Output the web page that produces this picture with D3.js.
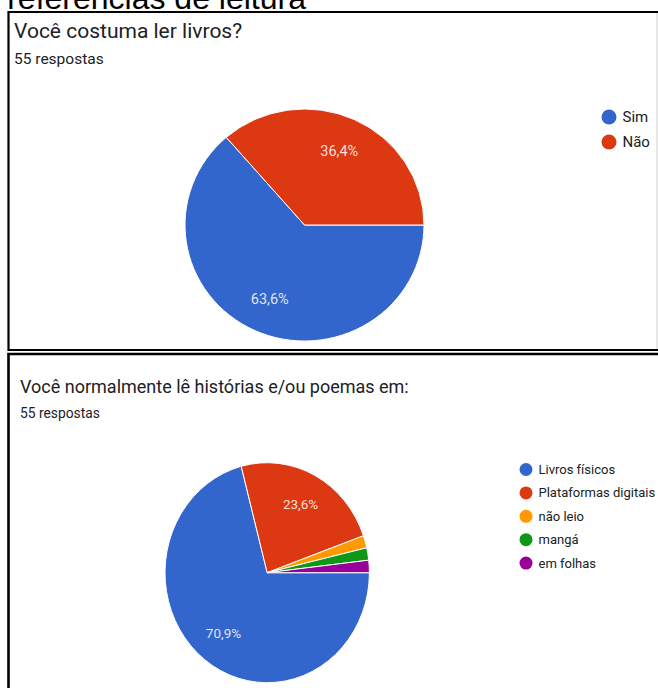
<!DOCTYPE html>
<html>
<head>
<meta charset="utf-8">
<script src="https://cdn.jsdelivr.net/npm/d3@7"></script>
<style>
  body { margin: 0; background: white; }
  svg { display: block; }
</style>
</head>
<body>
<script>
// data
let pageTitle = "Preferências de leitura";
let q1Title = "Você costuma ler livros?";
let q1Sub = "55 respostas";
let q1Labels = ["Sim", "Não"];
let q1Values = [35, 20];

let q2Title = "Você normalmente lê histórias e/ou poemas em:";
let q2Sub = "55 respostas";
let q2Labels = ["Livros físicos", "Plataformas digitais", "não leio", "mangá", "em folhas"];
let q2Values = [39, 13, 1, 1, 1];

let colours = ["#3366cc", "#dc3912", "#ff9900", "#109618", "#990099"];

let w = 658;
let h = 688;
let ptBR = d3.formatLocale({decimal: ",", thousands: ".", grouping: [3], currency: ["R$", ""]});
let pct = ptBR.format(".1%");

let svg = d3.select("body")
  .append("svg")
    .attr("width", w)
    .attr("height", h);

svg.append("rect")
  .attr("width", w)
  .attr("height", h)
  .attr("fill", "white");

// heading, cut off at the top of the screenshot
svg.append("text")
  .attr("x", 306)
  .attr("y", 9)
  .attr("text-anchor", "end")
  .attr("font-family", "Liberation Sans, Arial, sans-serif")
  .attr("font-size", 32)
  .attr("fill", "#000")
  .text(pageTitle);

// frames
svg.append("line").attr("x1", 657).attr("x2", 657).attr("y1", 12).attr("y2", 349)
  .attr("stroke", "#d0d0d0").attr("stroke-width", 1);
svg.append("path")
  .attr("d", "M658,12 H8.5 V350 H658")
  .attr("fill", "none").attr("stroke", "#000").attr("stroke-width", 2.2);
svg.append("path")
  .attr("d", "M658,354 H8.5 V690")
  .attr("fill", "none").attr("stroke", "#000").attr("stroke-width", 2.6);

function drawPie(opt) {
  let g = svg.append("g");

  g.append("text")
    .attr("x", opt.tx).attr("y", opt.ty)
    .attr("font-family", "Roboto, sans-serif")
    .attr("font-size", opt.titleSize)
    .attr("fill", "#202124")
    .text(opt.title);

  g.append("text")
    .attr("x", opt.tx).attr("y", opt.sy)
    .attr("font-family", "Roboto, sans-serif")
    .attr("font-size", opt.subSize)
    .attr("fill", "#202124")
    .text(opt.sub);

  let total = d3.sum(opt.values);
  let pie = d3.pie().sort(null)
    .startAngle(Math.PI / 2)
    .endAngle(Math.PI / 2 + 2 * Math.PI);
  let arcs = pie(opt.values);
  let arc = d3.arc().innerRadius(0).outerRadius(opt.r);
  let labelArc = d3.arc().innerRadius(opt.r * 0.7).outerRadius(opt.r * 0.7);
  let k = opt.ry / opt.r;

  g.append("g")
    .attr("transform", "translate(" + opt.cx + "," + opt.cy + ") scale(1," + k + ")")
    .selectAll("path")
    .data(arcs)
    .join("path")
      .attr("d", arc)
      .attr("fill", (d, i) => colours[i])
      .attr("stroke", "white")
      .attr("stroke-width", 1)
      .attr("vector-effect", "non-scaling-stroke");

  // only the big slices get a label
  g.append("g")
    .attr("transform", "translate(" + opt.cx + "," + opt.cy + ")")
    .selectAll("text")
    .data(arcs.filter(d => d.value / total > 0.05))
    .join("text")
      .attr("x", d => labelArc.centroid(d)[0])
      .attr("y", d => labelArc.centroid(d)[1] * k)
      .attr("dy", "0.35em")
      .attr("text-anchor", "middle")
      .attr("font-family", "Roboto, sans-serif")
      .attr("font-size", opt.labelSize)
      .attr("fill", "white")
      .attr("fill-opacity", 0.85)
      .text(d => pct(d.value / total));

  let legend = g.append("g")
    .selectAll("g")
    .data(opt.labels)
    .join("g")
      .attr("transform", (d, i) => "translate(" + opt.lx + "," + (opt.ly + i * opt.lstep) + ")");
  legend.append("circle")
    .attr("r", opt.lr)
    .attr("fill", (d, i) => colours[i]);
  legend.append("text")
    .attr("x", opt.lr + 6)
    .attr("dy", "0.35em")
    .attr("font-family", "Roboto, sans-serif")
    .attr("font-size", opt.legendSize)
    .attr("fill", "#202124")
    .text(d => d);
}

drawPie({
  title: q1Title, sub: q1Sub, labels: q1Labels, values: q1Values,
  tx: 14, ty: 38, sy: 64, titleSize: 21, subSize: 15.5,
  cx: 304.5, cy: 225, r: 119.5, ry: 116, labelSize: 14.5,
  lx: 609, ly: 117, lstep: 25, lr: 7.5, legendSize: 15
});

drawPie({
  title: q2Title, sub: q2Sub, labels: q2Labels, values: q2Values,
  tx: 20, ty: 393, sy: 418, titleSize: 18, subSize: 13.8,
  cx: 267.2, cy: 572.7, r: 102.2, ry: 110, labelSize: 13.5,
  lx: 526, ly: 469.5, lstep: 23.4, lr: 6.5, legendSize: 13
});
</script>
</body>
</html>
